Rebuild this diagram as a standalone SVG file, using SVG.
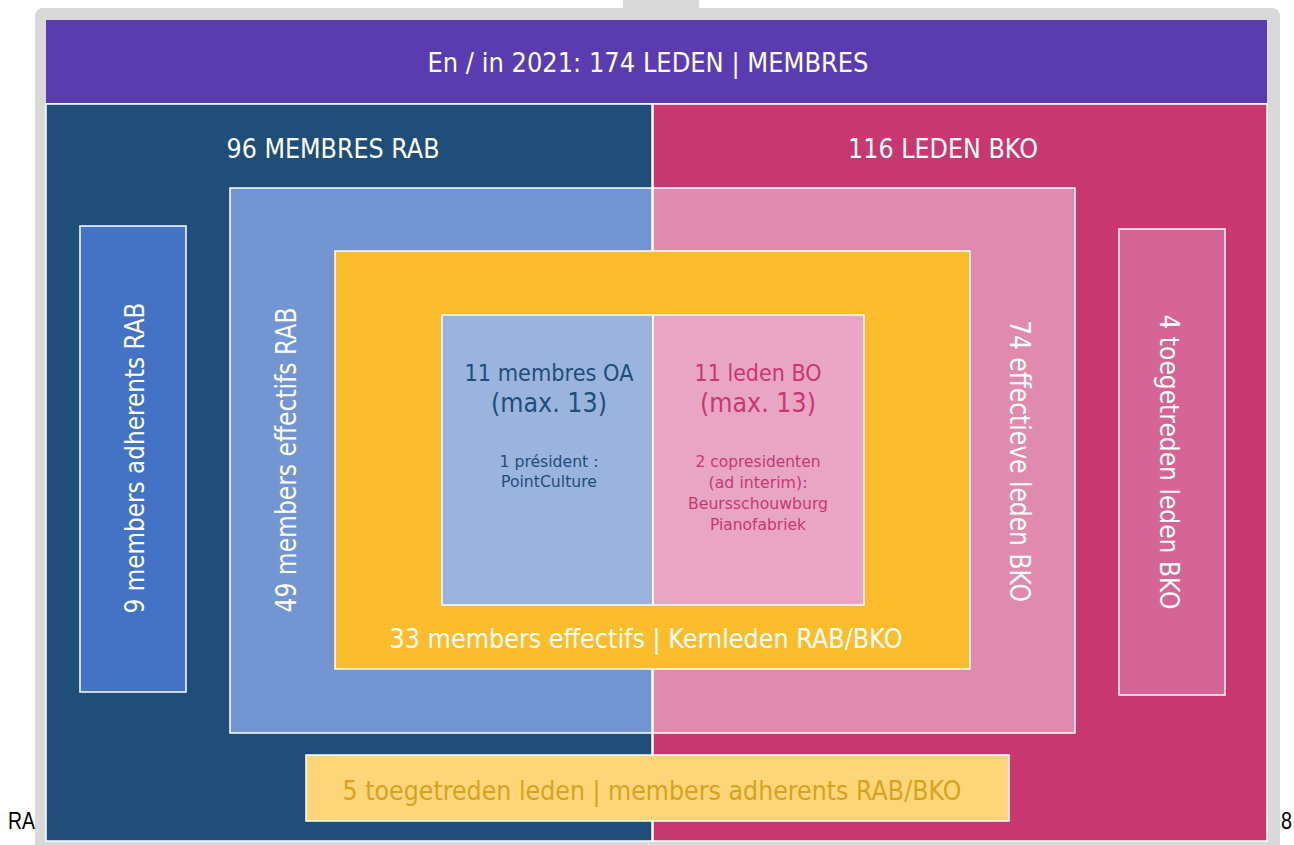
<svg xmlns="http://www.w3.org/2000/svg" width="1294" height="845" viewBox="0 0 1294 845">
<style>
.b{stroke:#ffffff;stroke-width:1.5}
.t{font-family:"DejaVu Sans","Liberation Sans",sans-serif;fill:#ffffff}
.c{text-anchor:middle}
</style>
<rect x="0" y="0" width="1294" height="845" fill="#ffffff"/>
<g id="frame">
<rect x="623" y="0" width="76" height="12" fill="#d9d9d9"/>
<rect x="35" y="8" width="1245" height="850" rx="8" fill="#d9d9d9"/>
</g>
<g id="header">
<rect x="46" y="20" width="1221" height="83" fill="#5b3cb0"/>
<text class="t c" x="648" y="72" font-size="26" textLength="441" lengthAdjust="spacingAndGlyphs">En / in 2021: 174 LEDEN | MEMBRES</text>
</g>
<g id="rab">
<rect class="b" x="46" y="104" width="606" height="737" fill="#1f4e79"/>
<text class="t c" x="333" y="158" font-size="26" textLength="213" lengthAdjust="spacingAndGlyphs">96 MEMBRES RAB</text>
</g>
<g id="bko">
<rect class="b" x="653" y="104" width="614" height="737" fill="#c93771"/>
<text class="t c" x="943" y="158" font-size="26" textLength="190" lengthAdjust="spacingAndGlyphs">116 LEDEN BKO</text>
</g>
<g id="adherents-rab">
<rect class="b" x="80" y="226" width="106" height="466" fill="#4472c4"/>
<text class="t c" transform="translate(144,458) rotate(-90)" x="0" y="0" font-size="27" textLength="311" lengthAdjust="spacingAndGlyphs">9 members adherents RAB</text>
</g>
<g id="effectifs-rab">
<rect class="b" x="230" y="188" width="422" height="545" fill="#7396d3"/>
<text class="t c" transform="translate(296,460) rotate(-90)" x="0" y="0" font-size="28" textLength="305" lengthAdjust="spacingAndGlyphs">49 members effectifs RAB</text>
</g>
<g id="effectieve-bko">
<rect class="b" x="653" y="188" width="422" height="545" fill="#e08bad"/>
<text class="t c" transform="translate(1010,461) rotate(90)" x="0" y="0" font-size="28" textLength="282" lengthAdjust="spacingAndGlyphs">74 effectieve leden BKO</text>
</g>
<g id="toegetreden-bko">
<rect class="b" x="1119" y="229" width="106" height="466" fill="#d66496"/>
<text class="t c" transform="translate(1160,462) rotate(90)" x="0" y="0" font-size="27" textLength="295" lengthAdjust="spacingAndGlyphs">4 toegetreden leden BKO</text>
</g>
<g id="kernleden">
<rect class="b" x="335" y="251" width="635" height="418" fill="#fbbd2b"/>
<text class="t c" x="646" y="648" font-size="26" textLength="513" lengthAdjust="spacingAndGlyphs">33 members effectifs | Kernleden RAB/BKO</text>
</g>
<g id="oa">
<rect class="b" x="442" y="315" width="211" height="290" fill="#9bb4df"/>
<text class="t c" x="549" y="381" font-size="23" style="fill:#1f4e79" textLength="169" lengthAdjust="spacingAndGlyphs">11 membres OA</text>
<text class="t c" x="549" y="412" font-size="27" style="fill:#1f4e79" textLength="116" lengthAdjust="spacingAndGlyphs">(max. 13)</text>
<text class="t c" x="549" y="467" font-size="15" style="fill:#1f4e79" textLength="99" lengthAdjust="spacingAndGlyphs">1 président :</text>
<text class="t c" x="549" y="487" font-size="15" style="fill:#1f4e79" textLength="96" lengthAdjust="spacingAndGlyphs">PointCulture</text>
</g>
<g id="bo">
<rect class="b" x="653" y="315" width="211" height="290" fill="#e8a6c4"/>
<text class="t c" x="758" y="381" font-size="23" style="fill:#c93771" textLength="127" lengthAdjust="spacingAndGlyphs">11 leden BO</text>
<text class="t c" x="758" y="412" font-size="27" style="fill:#c93771" textLength="116" lengthAdjust="spacingAndGlyphs">(max. 13)</text>
<text class="t c" x="758" y="467" font-size="15" style="fill:#c93771" textLength="125" lengthAdjust="spacingAndGlyphs">2 copresidenten</text>
<text class="t c" x="758" y="488" font-size="15" style="fill:#c93771" textLength="99" lengthAdjust="spacingAndGlyphs">(ad interim):</text>
<text class="t c" x="758" y="509" font-size="15" style="fill:#c93771" textLength="140" lengthAdjust="spacingAndGlyphs">Beursschouwburg</text>
<text class="t c" x="758" y="530" font-size="15" style="fill:#c93771" textLength="96" lengthAdjust="spacingAndGlyphs">Pianofabriek</text>
</g>
<g id="toegetreden-rab-bko">
<rect class="b" x="306" y="755" width="703" height="66" fill="#fed678"/>
<text class="t c" x="652" y="800" font-size="26" style="fill:#d9a21e" textLength="619" lengthAdjust="spacingAndGlyphs">5 toegetreden leden | members adherents RAB/BKO</text>
</g>
<g id="page-text">
<text x="8" y="829" font-family="'Liberation Sans',Arial,sans-serif" font-size="24" fill="#000000" textLength="27" lengthAdjust="spacingAndGlyphs">RA</text>
<text x="1281" y="829" font-family="'Liberation Sans',Arial,sans-serif" font-size="24" fill="#000000" textLength="11" lengthAdjust="spacingAndGlyphs">8</text>
</g>
</svg>
